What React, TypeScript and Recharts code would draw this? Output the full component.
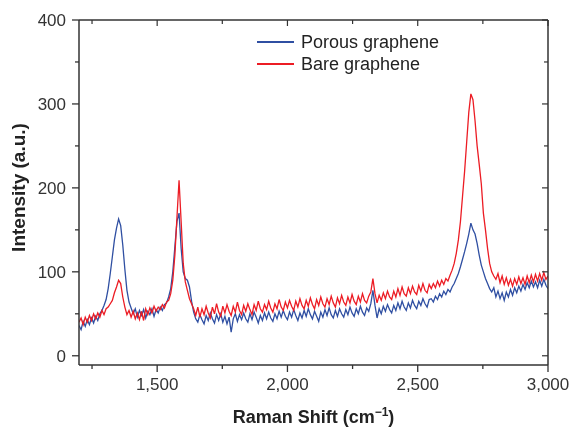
import React from "react";
import { LineChart, Line, XAxis, YAxis, Label } from "recharts";

// Raman spectra, sampled every 8 cm-1 from 1200 to 3000
const SHIFT_START = 1200;
const SHIFT_STEP = 8;

const POROUS = [
  36, 31, 41, 35, 43, 37, 45, 39, 47, 42,
  50, 54, 60, 67, 80, 98, 118, 138, 152, 163,
  155, 132, 103, 78, 64, 57, 50, 56, 46, 54,
  48, 55, 45, 53, 49, 56, 47, 55, 51, 58,
  54, 61, 63, 70, 80, 100, 130, 160, 170, 128,
  100, 92, 90, 82, 65, 52, 44, 40, 49, 43,
  38, 48, 42, 51, 44, 39, 49, 42, 50, 40,
  47, 38, 46, 28, 44, 50, 41, 49, 43, 51,
  44, 40, 50, 43, 52, 46, 39, 48, 42, 51,
  44, 52, 45, 41, 50, 44, 53, 46, 54, 47,
  43, 52, 46, 55, 48, 42, 51, 45, 54, 47,
  56, 49, 44, 53, 47, 41, 52, 46, 55, 48,
  57, 49, 45, 54, 47, 56, 50, 46, 55, 49,
  58, 51, 47, 56, 50, 59, 52, 48, 57, 53,
  62, 78, 60, 45, 56, 50, 59, 53, 61, 55,
  51, 60, 54, 63, 56, 65, 58, 54, 63, 57,
  66, 60, 56, 65, 60, 68, 62, 58, 67, 68,
  64, 71, 67, 74, 70, 77, 73, 79, 76, 82,
  86, 92, 98, 106, 115, 124, 134, 145, 158, 150,
  145, 134, 120, 108, 100, 92, 86, 80, 76, 81,
  70, 77, 68, 75, 66, 76, 70, 79, 72, 81,
  75, 83, 77, 85, 79, 87, 81, 89, 82, 88,
  81, 90, 83, 91, 84, 80,
];

const BARE = [
  40, 45, 37, 46, 40, 48, 42, 50, 44, 51,
  46, 54, 49, 56, 58, 62, 66, 75, 82, 90,
  86, 70, 58, 49, 54, 46, 53, 44, 51, 43,
  53, 42, 56, 49, 57, 51, 59, 53, 58, 55,
  61, 57, 64, 66, 74, 90, 120, 165, 209, 160,
  110, 88, 78, 68, 62, 56, 48, 58, 46, 56,
  49, 59, 51, 45, 58, 50, 62, 52, 47, 59,
  51, 61, 53, 48, 59, 52, 64, 54, 49, 60,
  53, 62, 55, 49, 61, 54, 65, 56, 52, 61,
  55, 65, 57, 52, 62, 56, 67, 58, 54, 64,
  57, 66, 59, 54, 65, 58, 68, 60, 56, 66,
  59, 69, 61, 56, 67, 60, 70, 62, 58, 68,
  61, 71, 63, 58, 69, 62, 72, 64, 60, 70,
  63, 73, 65, 61, 71, 64, 74, 66, 63, 71,
  76, 92, 74, 63, 72, 66, 75, 68, 77, 70,
  67, 77, 70, 80, 72, 82, 74, 71, 81, 74,
  83, 76, 73, 84, 77, 86, 78, 75, 85, 80,
  86, 81, 89, 83, 90, 85, 92, 89, 96, 102,
  110, 122, 138, 160, 190, 220, 255, 290, 312, 305,
  280, 250, 228, 205, 170, 150, 128, 110, 100, 95,
  91, 98, 87, 95, 85, 93, 84, 91, 83, 92,
  85, 94, 86, 93, 85, 95, 87, 96, 88, 97,
  89, 98, 90, 99, 91, 95,
];

const X_TICKS = [1250, 1500, 1750, 2000, 2250, 2500, 2750, 3000];
const Y_TICKS = [0, 50, 100, 150, 200, 250, 300, 350, 400];

const BLUE = "#2f4fa2";
const RED = "#ec1c24";
const INK = "#333333";
const FONT = "'Liberation Sans', Arial, sans-serif";

const toPoints = (values: number[]) =>
  values.map((v, i) => ({ shift: SHIFT_START + i * SHIFT_STEP, value: v }));

const porousData = toPoints(POROUS);
const bareData = toPoints(BARE);

const fmt = (v: number) => v.toLocaleString("en-US");

// tick marks: long for labelled values, short for minor ones
const BottomTick = ({ x, y, payload }: any) => {
  const major = payload.value % 500 === 0;
  return (
    <g>
      <line x1={x} y1={y} x2={x} y2={y + (major ? 7 : 4)} stroke={INK} strokeWidth={1.3} />
      {major && (
        <text x={x} y={y + 25} textAnchor="middle" fontSize={17} fill={INK} fontFamily={FONT}>
          {fmt(payload.value)}
        </text>
      )}
    </g>
  );
};

const LeftTick = ({ x, y, payload }: any) => {
  const major = payload.value % 100 === 0;
  return (
    <g>
      <line x1={x} y1={y} x2={x - (major ? 7 : 4)} y2={y} stroke={INK} strokeWidth={1.3} />
      {major && (
        <text x={x - 13} y={y + 6} textAnchor="end" fontSize={17} fill={INK} fontFamily={FONT}>
          {payload.value}
        </text>
      )}
    </g>
  );
};

const TopTick = ({ x, y, payload }: any) => {
  const major = payload.value % 500 === 0;
  return <line x1={x} y1={y} x2={x} y2={y + (major ? 6 : 4)} stroke={INK} strokeWidth={1.2} />;
};

const RightTick = ({ x, y, payload }: any) => {
  const major = payload.value % 100 === 0;
  return <line x1={x} y1={y} x2={x - (major ? 6 : 4)} y2={y} stroke={INK} strokeWidth={1.2} />;
};

const legendItems = [
  { name: "Porous graphene", color: BLUE },
  { name: "Bare graphene", color: RED },
];

export default function App() {
  return (
    <div style={{ position: "fixed", top: 0, left: 0, width: 574, height: 427 }}>
      <LineChart width={574} height={427} margin={{ top: 19, right: 25, bottom: 0, left: 0 }}>
        <XAxis
          xAxisId="bottom"
          dataKey="shift"
          type="number"
          domain={[1200, 3000]}
          allowDataOverflow
          ticks={X_TICKS}
          tick={BottomTick}
          tickLine={false}
          tickSize={0}
          tickMargin={0}
          height={62}
          axisLine={{ stroke: INK, strokeWidth: 1.5 }}
        >
          <Label
            content={({ viewBox }: any) => (
              <text
                x={viewBox.x + viewBox.width / 2}
                y={viewBox.y + 58}
                textAnchor="middle"
                fontSize={18}
                fontWeight="bold"
                fill="#222"
                fontFamily={FONT}
              >
                Raman Shift (cm
                <tspan dy={-7} fontSize={12}>
                  −1
                </tspan>
                <tspan dy={7}>)</tspan>
              </text>
            )}
          />
        </XAxis>
        <XAxis
          xAxisId="top"
          orientation="top"
          dataKey="shift"
          type="number"
          domain={[1200, 3000]}
          allowDataOverflow
          ticks={X_TICKS}
          tick={TopTick}
          tickLine={false}
          tickSize={0}
          tickMargin={0}
          height={1}
          axisLine={{ stroke: INK, strokeWidth: 1.5 }}
        />
        <YAxis
          yAxisId="left"
          type="number"
          domain={[-11, 400]}
          allowDataOverflow
          ticks={Y_TICKS}
          tick={LeftTick}
          tickLine={false}
          tickSize={0}
          tickMargin={0}
          width={79}
          axisLine={{ stroke: INK, strokeWidth: 1.5 }}
        >
          <Label
            content={({ viewBox }: any) => {
              const cx = viewBox.x + 18;
              const cy = viewBox.y + viewBox.height / 2 - 5;
              return (
                <text
                  x={cx}
                  y={cy}
                  transform={`rotate(-90 ${cx} ${cy})`}
                  textAnchor="middle"
                  dominantBaseline="central"
                  fontSize={19}
                  fontWeight="bold"
                  fill="#222"
                  fontFamily={FONT}
                >
                  Intensity (a.u.)
                </text>
              );
            }}
          />
        </YAxis>
        <YAxis
          yAxisId="right"
          orientation="right"
          type="number"
          domain={[-11, 400]}
          allowDataOverflow
          ticks={Y_TICKS}
          tick={RightTick}
          tickLine={false}
          tickSize={0}
          tickMargin={0}
          width={1}
          axisLine={{ stroke: INK, strokeWidth: 1.5 }}
        />
        <Line
          xAxisId="bottom"
          yAxisId="left"
          data={porousData}
          dataKey="value"
          name="Porous graphene"
          stroke={BLUE}
          strokeWidth={1.3}
          dot={false}
          isAnimationActive={false}
        />
        {/* same domains, so binding to the frame axes keeps them drawn */}
        <Line
          xAxisId="top"
          yAxisId="right"
          data={bareData}
          dataKey="value"
          name="Bare graphene"
          stroke={RED}
          strokeWidth={1.3}
          dot={false}
          isAnimationActive={false}
        />
      </LineChart>
      <div
        style={{
          position: "absolute",
          top: 31,
          left: 257,
          fontFamily: FONT,
          fontSize: 18,
          color: "#222",
        }}
      >
        {legendItems.map((item) => (
          <div key={item.name} style={{ display: "flex", alignItems: "center", height: 22 }}>
            <svg width={44} height={22}>
              <line x1={0} y1={11} x2={37} y2={11} stroke={item.color} strokeWidth={2} />
            </svg>
            <span style={{ lineHeight: "22px" }}>{item.name}</span>
          </div>
        ))}
      </div>
    </div>
  );
}
